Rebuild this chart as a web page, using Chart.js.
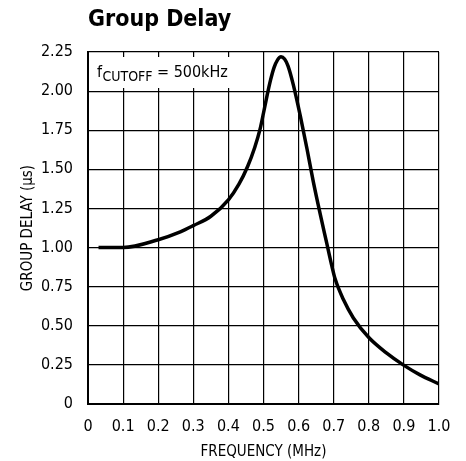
<!DOCTYPE html>
<html>
<head>
<meta charset="utf-8">
<script src="https://cdn.jsdelivr.net/npm/chart.js@4"></script>
<style>
  html, body { margin: 0; padding: 0; background: #fff; }
  #wrap { width: 466px; height: 461px; }
</style>
</head>
<body>
<div id="wrap"><canvas id="delay-chart" width="466" height="461"></canvas></div>
<script>
// frequency in MHz, group delay in microseconds
var freqMHz = [0.03, 0.1, 0.2, 0.263, 0.3, 0.35, 0.4, 0.43, 0.455, 0.475, 0.49, 0.5, 0.51, 0.52, 0.53, 0.54, 0.55, 0.56, 0.57, 0.585, 0.605, 0.624, 0.642, 0.661, 0.68, 0.695, 0.704, 0.728, 0.756, 0.8, 0.851, 0.898, 0.946, 1.0];
var delayUs = [1.0, 1.0, 1.05, 1.10, 1.14, 1.20, 1.305, 1.405, 1.52, 1.64, 1.755, 1.86, 1.97, 2.07, 2.15, 2.20, 2.22, 2.205, 2.16, 2.04, 1.84, 1.63, 1.42, 1.22, 1.03, 0.88, 0.80, 0.666, 0.55, 0.425, 0.325, 0.25, 0.186, 0.128];
var xTicks = [0, 0.1, 0.2, 0.3, 0.4, 0.5, 0.6, 0.7, 0.8, 0.9, 1.0];
var xTickLabels = ["0", "0.1", "0.2", "0.3", "0.4", "0.5", "0.6", "0.7", "0.8", "0.9", "1.0"];
var yTicks = [0, 0.25, 0.5, 0.75, 1.0, 1.25, 1.5, 1.75, 2.0, 2.25];
var yTickLabels = ["0", "0.25", "0.50", "0.75", "1.00", "1.25", "1.50", "1.75", "2.00", "2.25"];

var FONT = "'Liberation Sans Narrow', 'DejaVu Sans Condensed', sans-serif";

var points = freqMHz.map(function (f, i) { return { x: f, y: delayUs[i] }; });

// title above the plot and the cutoff note in its white box
var annotate = {
  id: 'annotate',
  beforeDatasetsDraw: function (chart) {
    var ctx = chart.ctx, a = chart.chartArea;
    ctx.save();
    ctx.fillStyle = '#fff';
    ctx.fillRect(a.left + 1, a.top + 5, 152, 31);
    ctx.fillStyle = '#000';
    ctx.textBaseline = 'alphabetic';
    ctx.font = '16px ' + FONT;
    ctx.fillText('f', a.left + 9, a.top + 25);
    ctx.font = '14px ' + FONT;
    ctx.fillText('CUTOFF', a.left + 14.5, a.top + 29);
    ctx.font = '16px ' + FONT;
    ctx.fillText('= 500kHz', a.left + 69, a.top + 25);
    ctx.restore();
  },
  afterDraw: function (chart) {
    var ctx = chart.ctx, a = chart.chartArea;
    ctx.save();
    ctx.fillStyle = '#000';
    ctx.font = 'bold 23px ' + FONT;
    ctx.textBaseline = 'alphabetic';
    ctx.fillText('Group Delay', a.left, 26);
    ctx.restore();
  }
};

new Chart(document.getElementById("delay-chart"), {
    type: 'line',
    data: {
      datasets: [
        {
          label: "group delay",
          data: points,
          borderColor: "#000",
          borderWidth: 3.5,
          pointRadius: 0,
          fill: false,
          cubicInterpolationMode: 'monotone'
        }
      ]
    },
    plugins: [annotate],
    options: {
      responsive: false,
      animation: false,
      layout: { padding: { top: 52, right: 27, left: 0, bottom: 0 } },
      plugins: {
        legend: { display: false },
        title: { display: false },
        tooltip: { enabled: false }
      },
      scales: {
        x: {
          type: 'linear',
          min: 0,
          max: 1,
          afterBuildTicks: function (s) { s.ticks = xTicks.map(function (v) { return { value: v }; }); },
          afterFit: function (s) { s.height = 57; },
          ticks: {
            color: '#000',
            font: { family: FONT, size: 16 },
            padding: 13,
            maxRotation: 0,
            callback: function (v) { return xTickLabels[xTicks.indexOf(Math.round(v * 10) / 10)]; }
          },
          grid: { color: '#000', lineWidth: 1.2, drawTicks: false },
          border: { color: '#000', width: 2 },
          title: {
            display: true,
            text: 'FREQUENCY (MHz)',
            color: '#000',
            font: { family: FONT, size: 15 },
            padding: { top: 4, bottom: 0 }
          }
        },
        y: {
          min: 0,
          max: 2.25,
          afterBuildTicks: function (s) { s.ticks = yTicks.map(function (v) { return { value: v }; }); },
          afterFit: function (s) { s.width = 88; },
          ticks: {
            color: '#000',
            font: { family: FONT, size: 16 },
            padding: 15,
            callback: function (v) { return yTickLabels[yTicks.indexOf(Math.round(v * 100) / 100)]; }
          },
          grid: { color: '#000', lineWidth: 1.2, drawTicks: false },
          border: { color: '#000', width: 2 },
          title: {
            display: true,
            text: 'GROUP DELAY (µs)',
            color: '#000',
            font: { family: FONT, size: 15 },
            padding: { top: 19, bottom: 0 }
          }
        }
      }
    }
});
</script>
</body>
</html>
